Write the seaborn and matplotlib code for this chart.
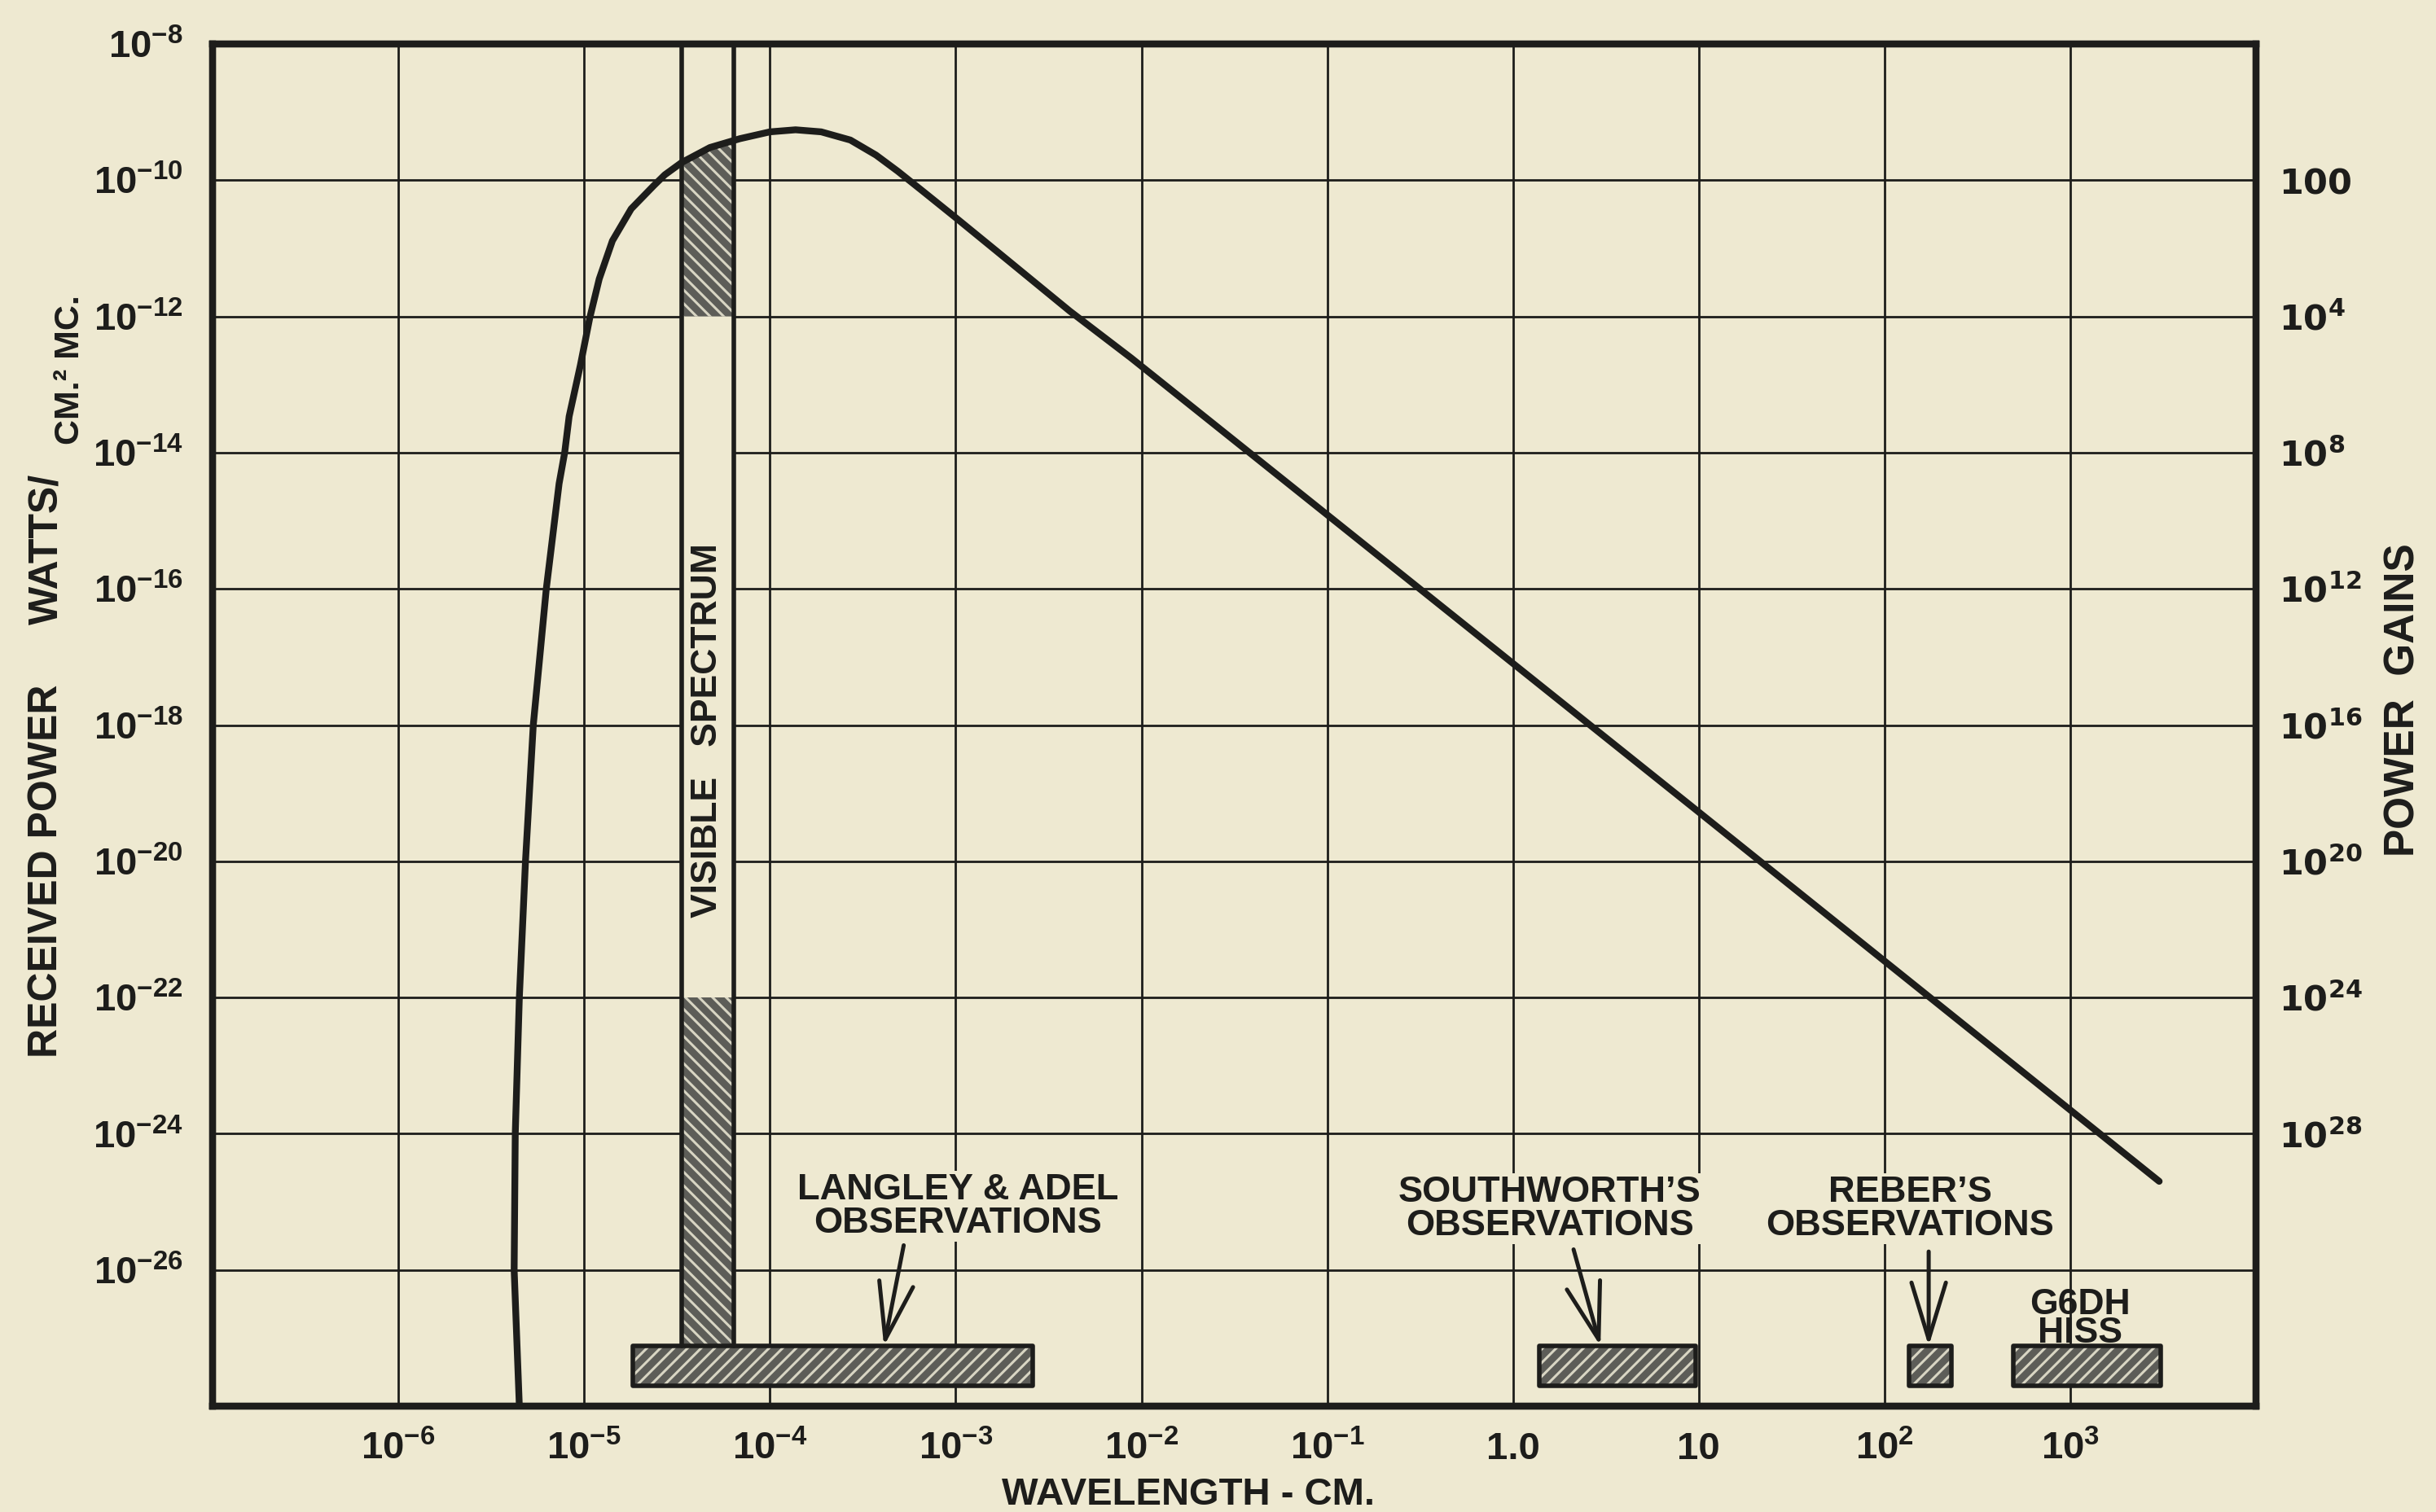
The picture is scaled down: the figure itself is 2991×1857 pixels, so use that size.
import numpy as np
import pandas as pd
import matplotlib
matplotlib.use("Agg")
import matplotlib.pyplot as plt
from matplotlib.ticker import NullLocator
import seaborn as sns

# ---------------- data ----------------
wavelength_cm = [4.477e-6, 4.198e-6, 4.256e-6, 4.477e-6, 4.831e-6, 5.321e-6, 6.252e-6,
                 7.328e-6, 7.852e-6, 8.299e-6, 9.550e-6, 1.072e-5, 1.205e-5, 1.419e-5,
                 1.791e-5, 2.366e-5, 2.716e-5, 3.350e-5, 4.753e-5, 6.887e-5, 1.000e-4,
                 1.374e-4, 1.888e-4, 2.710e-4, 3.724e-4, 4.887e-4, 6.714e-4, 1.000e-3,
                 1.660e-3, 4.111e-3, 8.810e-3, 9.727e-2, 9.55, 3013.0]
received_power = [1.0e-28, 1.0e-26, 1.0e-24, 1.0e-22, 1.0e-20, 1.0e-18, 1.0e-16,
                  3.51e-15, 1.0e-14, 3.4e-14, 1.95e-13, 9.55e-13, 3.55e-12, 1.29e-11,
                  3.80e-11, 8.3e-11, 1.2e-10, 1.82e-10, 3.02e-10, 4.07e-10, 5.13e-10,
                  5.50e-10, 5.13e-10, 3.89e-10, 2.34e-10, 1.35e-10, 6.76e-11, 2.82e-11,
                  9.12e-12, 1.20e-12, 2.45e-13, 1.30e-15, 5.85e-20, 2.0e-25]

x_tick_values = [1e-6, 1e-5, 1e-4, 1e-3, 1e-2, 1e-1, 1.0, 10.0, 1e2, 1e3]
x_tick_labels = [r"$10^{-6}$", r"$10^{-5}$", r"$10^{-4}$", r"$10^{-3}$", r"$10^{-2}$",
                 r"$10^{-1}$", "1.0", "10", r"$10^{2}$", r"$10^{3}$"]
y_tick_values = [1e-8, 1e-10, 1e-12, 1e-14, 1e-16, 1e-18, 1e-20, 1e-22, 1e-24, 1e-26]
y_tick_labels = [r"$10^{-8}$", r"$10^{-10}$", r"$10^{-12}$", r"$10^{-14}$", r"$10^{-16}$",
                 r"$10^{-18}$", r"$10^{-20}$", r"$10^{-22}$", r"$10^{-24}$", r"$10^{-26}$"]
gain_tick_values = [1e-10, 1e-12, 1e-14, 1e-16, 1e-18, 1e-20, 1e-22, 1e-24]
gain_tick_labels = [r"$\mathbf{100}$", r"$\mathbf{10^{4}}$", r"$\mathbf{10^{8}}$",
                    r"$\mathbf{10^{12}}$", r"$\mathbf{10^{16}}$", r"$\mathbf{10^{20}}$",
                    r"$\mathbf{10^{24}}$", r"$\mathbf{10^{28}}$"]

visible_band = [3.34e-5, 6.40e-5]
visible_upper_floor = 1e-12
visible_lower_top = 1e-22

obs_labels = ["LANGLEY & ADEL\nOBSERVATIONS", "SOUTHWORTH\u2019S\nOBSERVATIONS",
              "REBER\u2019S\nOBSERVATIONS", "G6DH\nHISS"]
obs_low = [1.83e-5, 1.39, 136.0, 494.0]
obs_high = [2.59e-3, 9.6, 229.0, 3070.0]
obs_bottom = 2.0e-28
obs_top = 7.6e-28
label_x = [1.03e-3, 1.58, 137.0, 1130.0]
label_y = [8.6e-26, 7.9e-26, 7.9e-26, 1.9e-27]
arrow_tail_x = [5.25e-4, 2.12, 173.0]
arrow_tail_y = [2.3e-26, 2.0e-26, 1.86e-26]
arrow_head_x = [4.11e-4, 2.96, 173.0]

# ---------------- style ----------------
BG = "#eee9d1"
INK = "#1d1d1b"
HATCH_BG = "#5d5d58"
HATCH_FG = "#d8d5c3"

sns.set_theme(style="white")
plt.rcParams["font.family"] = ["Liberation Sans", "DejaVu Sans"]
plt.rcParams["font.weight"] = "bold"
plt.rcParams["mathtext.fontset"] = "custom"
plt.rcParams["mathtext.rm"] = "Liberation Sans:bold"
plt.rcParams["mathtext.it"] = "Liberation Sans:bold"
plt.rcParams["mathtext.bf"] = "Liberation Sans:bold"
plt.rcParams["mathtext.default"] = "rm"
plt.rcParams["hatch.linewidth"] = 1.1

DPI = 200
fig = plt.figure(figsize=(2991 / DPI, 1857 / DPI), dpi=DPI, facecolor=BG)
ax = fig.add_axes([0.0873, 0.0700, 0.8388, 0.9009])
ax.set_facecolor(BG)
ax.set_xscale("log")
ax.set_yscale("log")
ax.set_xlim(1e-7, 1e4)
ax.set_ylim(1e-28, 1e-8)

df = pd.DataFrame({"wavelength": wavelength_cm, "power": received_power})
sns.lineplot(data=df, x="wavelength", y="power", sort=False, estimator=None, ax=ax,
             color=INK, linewidth=3.0, zorder=6)
for ln in ax.lines:
    ln.set_solid_joinstyle("round")

# grid and ticks
ax.set_xticks(x_tick_values)
ax.set_xticklabels(x_tick_labels)
ax.set_yticks(y_tick_values)
ax.set_yticklabels(y_tick_labels)
ax.xaxis.set_minor_locator(NullLocator())
ax.yaxis.set_minor_locator(NullLocator())
ax.set_axisbelow(True)
ax.grid(True, which="major", color=INK, linewidth=1.0)
ax.tick_params(axis="both", which="both", length=0, labelsize=17, colors=INK)
ax.tick_params(axis="y", pad=13)
ax.tick_params(axis="x", pad=11)
for s in ax.spines.values():
    s.set_linewidth(3.0)
    s.set_color(INK)
    s.set_zorder(8)
ax.set_xlabel("")
ax.set_ylabel("")

# visible spectrum band
ax.fill_between(visible_band, [obs_top, obs_top], [1e-8, 1e-8], facecolor=BG,
                edgecolor="none", zorder=1.5)
lx = np.log10(wavelength_cm)
ly = np.log10(received_power)
rise = slice(int(np.argmin(lx)), int(np.argmax(ly)) + 1)
xs = np.logspace(np.log10(visible_band[0]), np.log10(visible_band[1]), 40)
top = 10 ** np.interp(np.log10(xs), lx[rise], ly[rise])
ax.fill_between(xs, visible_upper_floor, top, facecolor=HATCH_BG, edgecolor=HATCH_FG,
                hatch="\\\\\\\\", linewidth=0, zorder=2)
ax.fill_between(visible_band, [obs_top, obs_top], [visible_lower_top, visible_lower_top],
                facecolor=HATCH_BG, edgecolor=HATCH_FG, hatch="\\\\\\\\", linewidth=0, zorder=2)
for xv in visible_band:
    ax.plot([xv, xv], [obs_top, 1e-8], color=INK, linewidth=2.0, zorder=4)
ax.text(np.sqrt(visible_band[0] * visible_band[1]), 8.3e-19, "VISIBLE   SPECTRUM",
        rotation=90, ha="center", va="center", fontsize=16, color=INK, zorder=7)

# observation bars
for lo, hi in zip(obs_low, obs_high):
    ax.fill_between([lo, hi], [obs_bottom, obs_bottom], [obs_top, obs_top],
                    facecolor=HATCH_BG, edgecolor=HATCH_FG, hatch="////", linewidth=0, zorder=3)
    ax.fill_between([lo, hi], [obs_bottom, obs_bottom], [obs_top, obs_top],
                    facecolor="none", edgecolor=INK, linewidth=2.0, zorder=4)

for i, txt in enumerate(obs_labels):
    if i < 3:
        ax.text(label_x[i], label_y[i], txt, ha="center", va="center", fontsize=16.3,
                color=INK, linespacing=1.0, zorder=7,
                bbox=dict(boxstyle="square,pad=0.05", fc=BG, ec="none"))
    else:
        ax.text(label_x[i], label_y[i], txt, ha="center", va="center", fontsize=16,
                color=INK, linespacing=0.8, zorder=7)

for tx, ty, hx in zip(arrow_tail_x, arrow_tail_y, arrow_head_x):
    ax.annotate("", xy=(hx, obs_top), xytext=(tx, ty),
                arrowprops=dict(arrowstyle="->,head_length=1.25,head_width=0.38",
                                lw=1.8, color=INK, mutation_scale=20,
                                shrinkA=0, shrinkB=0), zorder=7)

# right-hand power gain axis
ax2 = ax.twinx()
ax2.set_yscale("log")
ax2.set_ylim(1e-28, 1e-8)
ax2.set_yticks(gain_tick_values)
ax2.set_yticklabels(gain_tick_labels, fontfamily="DejaVu Sans", math_fontfamily="dejavusans")
ax2.yaxis.set_minor_locator(NullLocator())
ax2.tick_params(axis="y", which="both", length=0, labelsize=15.5, pad=10, colors=INK)
ax2.grid(False)
for s in ax2.spines.values():
    s.set_linewidth(3.0)
    s.set_color(INK)

# axis titles
fig.text(30 / 1568, 1 - 561 / 974, "RECEIVED POWER", rotation=90, ha="center", va="center",
         fontsize=18, color=INK)
fig.text(30 / 1568, 1 - 354 / 974, "WATTS/", rotation=90, ha="center", va="center",
         fontsize=18, color=INK)
fig.text(45 / 1568, 1 - 238 / 974, "CM.\u00b2 MC.", rotation=90, ha="center", va="center",
         fontsize=15.5, color=INK)
fig.text(1547 / 1568, 1 - 451 / 974, "POWER  GAINS", rotation=90, ha="center", va="center",
         fontsize=18.5, color=INK)
fig.text(765 / 1568, 1 - 963 / 974, "WAVELENGTH - CM.", ha="center", va="center",
         fontsize=17, color=INK)

fig.savefig("out.png", dpi=DPI, facecolor=BG)
